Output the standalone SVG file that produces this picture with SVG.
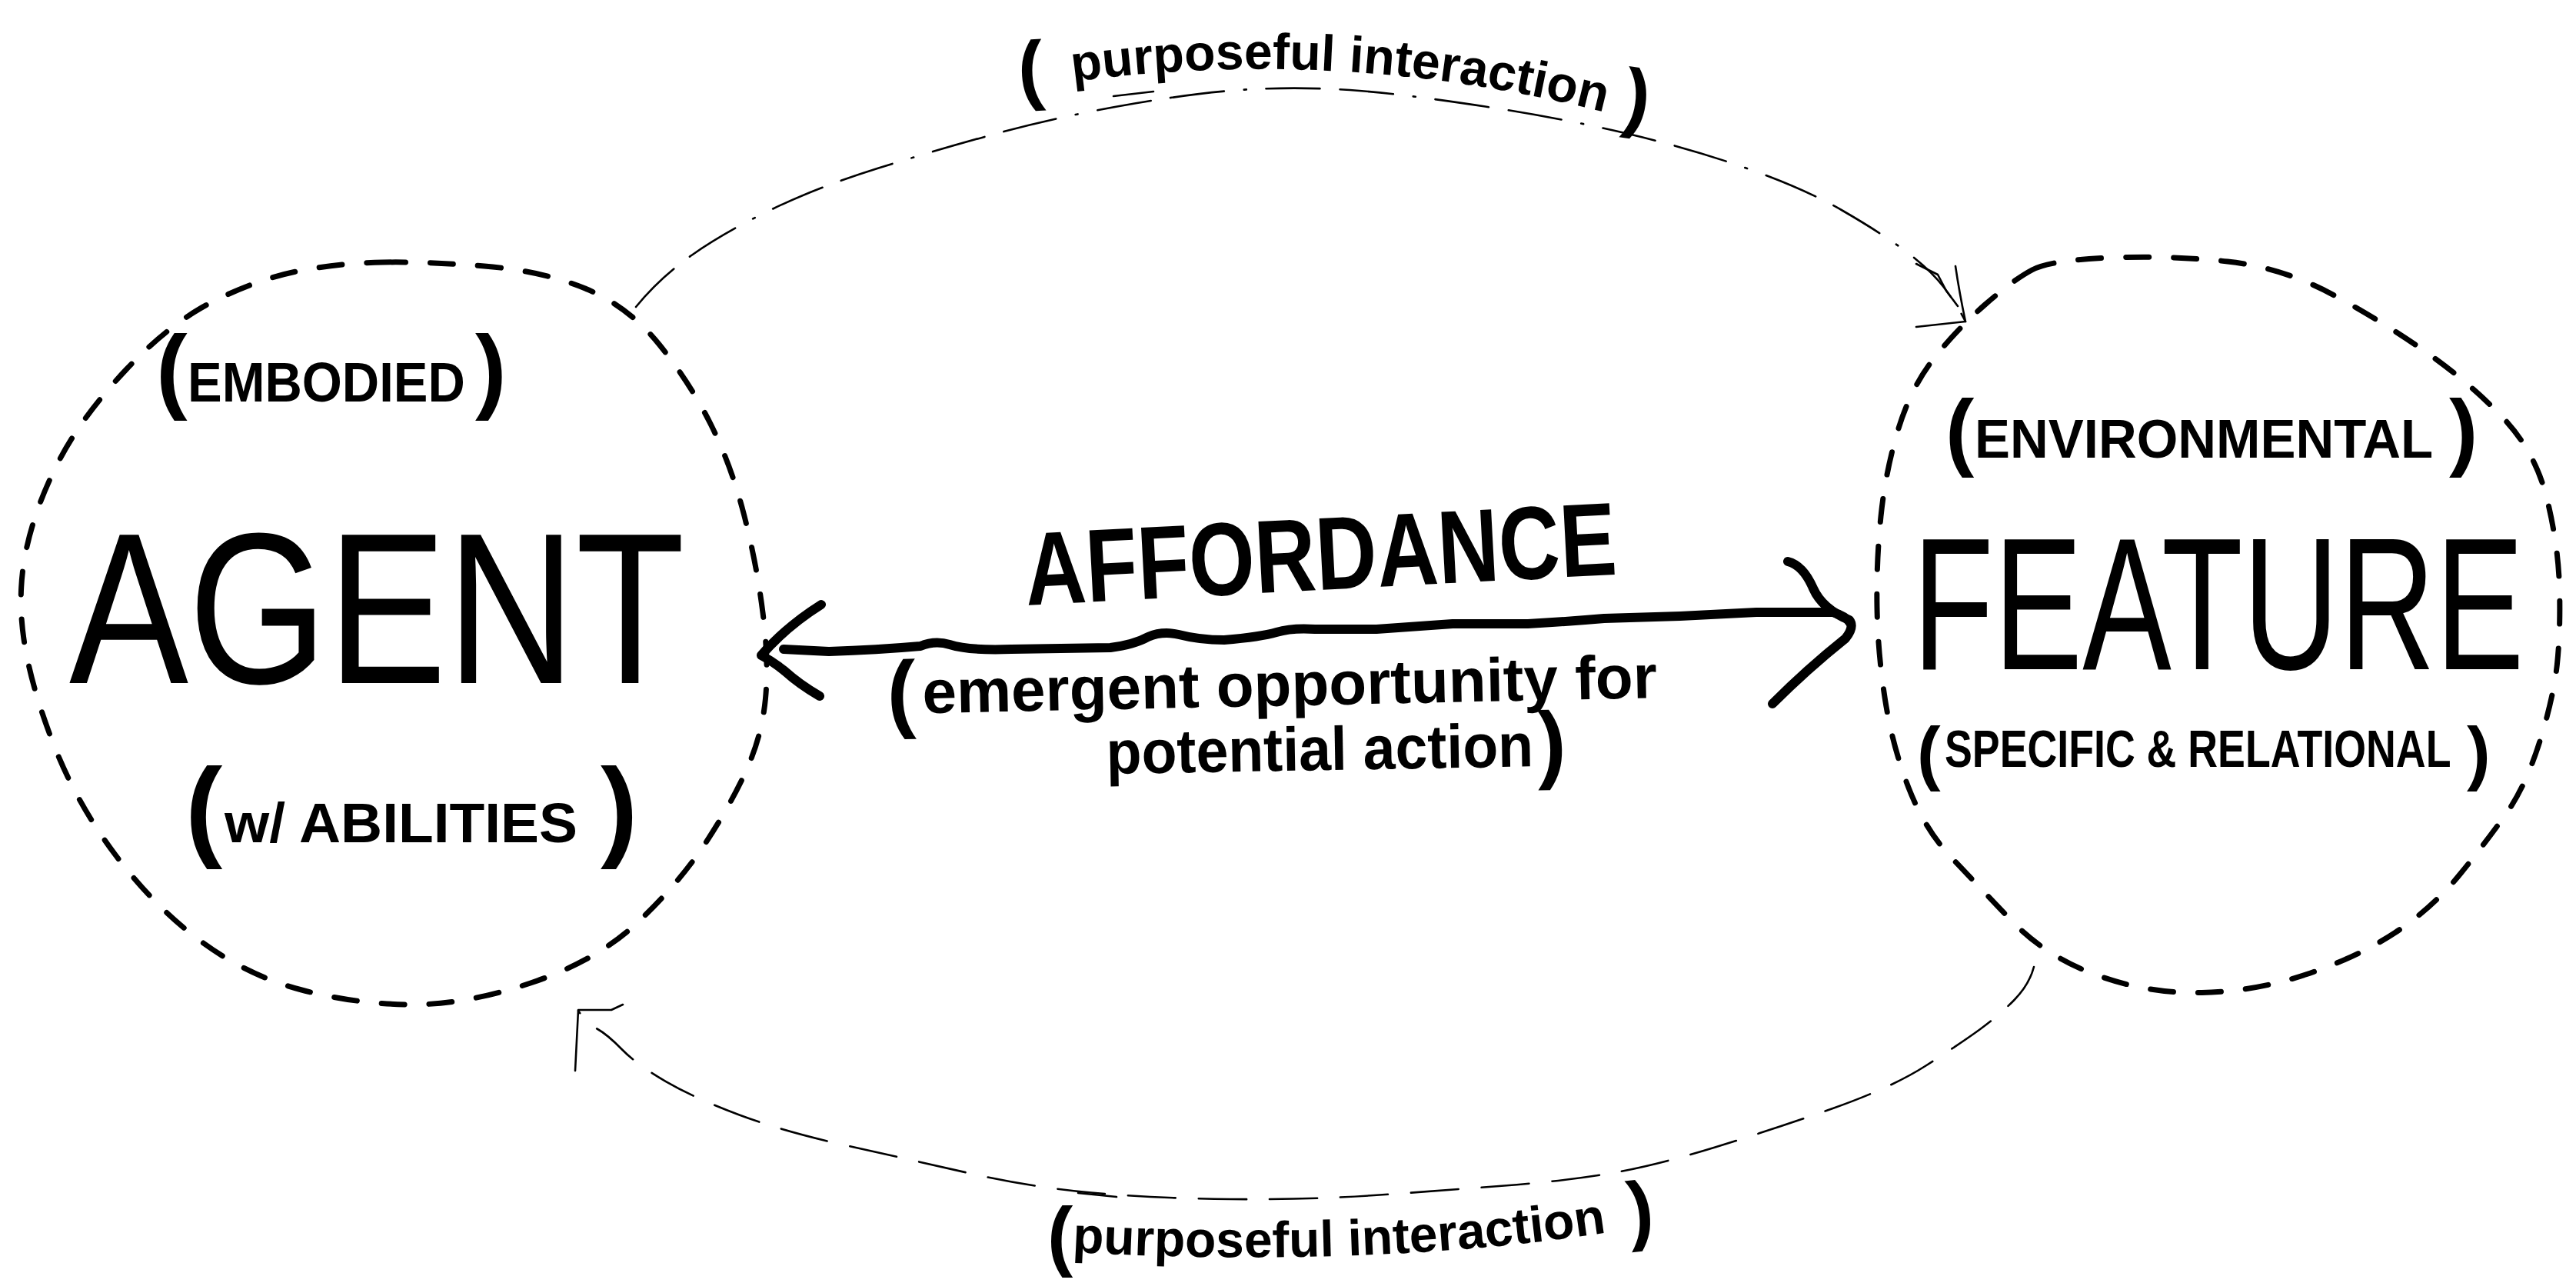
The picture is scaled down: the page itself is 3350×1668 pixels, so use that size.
<svg xmlns="http://www.w3.org/2000/svg" width="3350" height="1668" viewBox="0 0 3350 1668">
<defs>
<style>
.bg{fill:#fff}
.ring{fill:none;stroke:#000;stroke-width:7;stroke-linecap:round;stroke-linejoin:round;stroke-dasharray:30 32}
.thin{fill:none;stroke:#000;stroke-width:2.6;stroke-linecap:round;stroke-linejoin:round}
.arc{stroke-dasharray:62 30}
.arc2{stroke-dasharray:70 26 70 26 3 26}
.thick{fill:none;stroke:#000;stroke-width:12;stroke-linecap:round;stroke-linejoin:round}
.hand{font-family:"Liberation Sans","DejaVu Sans",sans-serif;fill:#000}
.b{font-weight:bold}
</style>
<path id="topLabel" d="M 1395 106 Q 1760 58 2110 152"/>
<path id="botLabel" d="M 1394 1628 Q 1800 1650 2118 1598"/>
</defs>
<rect class="bg" x="0" y="0" width="3350" height="1668"/>

<g id="connectors">
  <!-- top arc: agent -> feature -->
  <path class="thin arc2" d="M 827 399 Q 858 361 900 331.5 Q 942 302 1003 272.5 Q 1064 243 1142.5 218.5 Q 1221 194 1300 172.5 Q 1379 151 1475.5 134.5 Q 1572 118 1639 115.5 Q 1706 113 1768 118 Q 1830 123 1931.5 138.5 Q 2033 154 2117.5 174 Q 2202 194 2275 220 Q 2348 246 2396.5 274 Q 2445 302 2477.5 326 Q 2510 350 2527.5 373 Q 2545 396 2556 418"/>
  <path class="thin" d="M 1448 125 L 1500 119"/>
  <path class="thin" d="M 2543 346 Q 2548 380 2556 418 L 2492 425"/>
  <path class="thin" d="M 2492 343 L 2520 357 L 2531 378 L 2546 398"/>
  <!-- bottom arc: feature -> agent -->
  <path class="thin arc" d="M 2645 1257 Q 2639 1280 2619.5 1300 Q 2600 1320 2574.5 1338.5 Q 2549 1357 2504.5 1385.5 Q 2460 1414 2383.5 1441 Q 2307 1468 2230.5 1491.5 Q 2154 1515 2096.5 1525 Q 2039 1535 1956 1541.5 Q 1873 1548 1786.5 1554 Q 1700 1560 1600 1559 Q 1500 1558 1419 1550.5 Q 1338 1543 1261.5 1525.5 Q 1185 1508 1102 1489.5 Q 1019 1471 961.5 1449.5 Q 904 1428 866 1406 Q 828 1384 809 1364.5 Q 790 1345 776.5 1337.5 Q 763 1330 752 1314"/>
  <path class="thin" d="M 1402 1551 L 1452 1556"/>
  <path class="thin" d="M 810 1306 L 795 1313 L 752 1313 L 748 1392"/>
  <!-- affordance double arrow -->
  <path class="thick" d="M 1019 844 L 1078 847 Q 1140 845 1197 840 Q 1216 832 1235 838 Q 1260 846 1315 844 L 1444 842 Q 1475 838 1493 828 Q 1512 820 1533 825 Q 1560 832 1592 832 Q 1640 828 1660 822 Q 1680 816 1710 818 L 1790 818 L 1889 811 L 1987 811 Q 2040 808 2086 804 L 2185 801 L 2284 796 L 2383 796 Q 2400 800 2407 811"/>
  <path class="thick" stroke-width="8" d="M 1068 786 Q 1022 815 990 852 Q 1005 860 1020 872 Q 1040 890 1066 905"/>
  <path class="thick" stroke-width="8" d="M 2325 730 Q 2345 735 2358 765 Q 2370 792 2405 806 Q 2412 815 2400 830 Q 2350 870 2305 915"/>
</g>

<g id="agent">
  <path class="ring" d="M 497.5 341 Q 555 340 630 346 Q 705 352 761 375 Q 817 398 857 447.5 Q 897 497 924 551 Q 951 605 967.5 669 Q 984 733 992 796.5 Q 1000 860 995.5 908 Q 991 956 971 1000.5 Q 951 1045 917.5 1096 Q 884 1147 830.5 1198 Q 777 1249 690 1278 Q 603 1307 531.5 1306 Q 460 1305 390.5 1286.5 Q 321 1268 261 1223.5 Q 201 1179 150.5 1112 Q 100 1045 70 968.5 Q 40 892 31 831 Q 22 770 34.5 713 Q 47 656 77 598.5 Q 107 541 164 480.5 Q 221 420 278 391.5 Q 335 363 387.5 352.5 Q 440 342 497.5 341 Z"/>
  <text class="hand b" x="203" y="522" font-size="122">(</text>
  <g transform="translate(244 522) scale(0.93 1)"><text class="hand b" x="0" y="0" font-size="72">EMBODIED</text></g>
  <text class="hand b" x="618" y="522" font-size="122">)</text>
  <g transform="translate(90 888) scale(0.83 1)"><text class="hand" x="0" y="0" font-size="280">AGENT</text></g>
  <text class="hand b" x="241" y="1100" font-size="145">(</text>
  <g transform="translate(292 1095) scale(1.04 1)"><text class="hand b" x="0" y="0" font-size="72">w/  ABILITIES</text></g>
  <text class="hand b" x="781" y="1100" font-size="145">)</text>
</g>

<g id="feature">
  <path class="ring" d="M 2642.5 351 Q 2667 338 2745.5 335 Q 2824 332 2897 340 Q 2970 348 3036.5 384.5 Q 3103 421 3157.5 459.5 Q 3212 498 3254.5 542.5 Q 3297 587 3312 647.5 Q 3327 708 3328.5 764 Q 3330 820 3325.5 863 Q 3321 906 3303 963.5 Q 3285 1021 3260.5 1056 Q 3236 1091 3200 1135.5 Q 3164 1180 3115.5 1212 Q 3067 1244 3000 1266.5 Q 2933 1289 2863.5 1290.5 Q 2794 1292 2727.5 1268 Q 2661 1244 2615.5 1196.5 Q 2570 1149 2536.5 1113.5 Q 2503 1078 2482 1024 Q 2461 970 2451.5 909.5 Q 2442 849 2441 789.5 Q 2440 730 2446 671.5 Q 2452 613 2468.5 558.5 Q 2485 504 2515 466 Q 2545 428 2581.5 396 Q 2618 364 2642.5 351 Z"/>
  <text class="hand b" x="2530" y="598" font-size="112">(</text>
  <g transform="translate(2568 595) scale(0.985 1)"><text class="hand b" x="0" y="0" font-size="70">ENVIRONMENTAL</text></g>
  <text class="hand b" x="3185" y="598" font-size="112">)</text>
  <g transform="translate(2487 870) scale(0.707 1)"><text class="hand" x="0" y="0" font-size="245">FEATURE</text></g>
  <text class="hand b" x="2493" y="1010" font-size="92">(</text>
  <g transform="translate(2529 997) scale(0.79 1)"><text class="hand b" x="0" y="0" font-size="68">SPECIFIC &amp; RELATIONAL</text></g>
  <text class="hand b" x="3208" y="1010" font-size="92">)</text>
</g>

<g id="affordance">
  <g transform="translate(1335 787) rotate(-3) scale(0.815 1)"><text class="hand b" x="0" y="0" font-size="135">AFFORDANCE</text></g>
  <g transform="translate(1162 928) rotate(-1.2)">
    <text class="hand b" x="-8" y="10" font-size="112">(</text>
    <text class="hand b" x="38" y="0" font-size="80">emergent opportunity for</text>
  </g>
  <g transform="translate(1439 1006) rotate(-1)">
    <g transform="scale(0.94 1)"><text class="hand b" x="0" y="0" font-size="80">potential action</text></g>
    <text class="hand b" x="561" y="8" font-size="112">)</text>
  </g>
</g>

<g id="label-top">
  <text class="hand b" x="1326" y="124" font-size="100" transform="rotate(-4 1340 124)">(</text>
  <text class="hand b" font-size="66"><textPath href="#topLabel">purposeful interaction</textPath></text>
  <text class="hand b" x="2108" y="160" font-size="100" transform="rotate(8 2125 160)">)</text>
</g>
<g id="label-bottom">
  <text class="hand b" x="1362" y="1640" font-size="100">(</text>
  <text class="hand b" font-size="66"><textPath href="#botLabel">purposeful  interaction</textPath></text>
  <text class="hand b" x="2120" y="1606" font-size="100" transform="rotate(-6 2135 1606)">)</text>
</g>
</svg>
